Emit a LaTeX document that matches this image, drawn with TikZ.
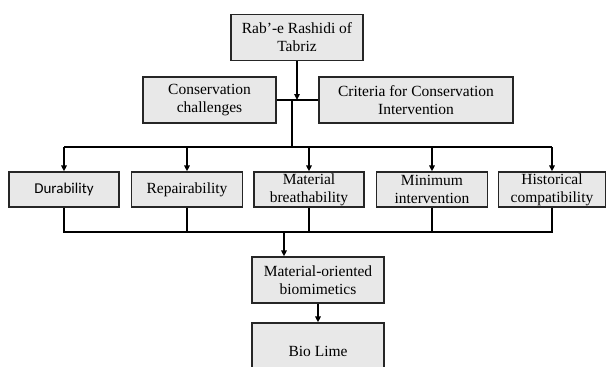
\documentclass[tikz,border=0pt]{standalone}
\usepackage{fontspec}
\setmainfont{Liberation Serif}
\newfontfamily\calib{Carlito}
\usetikzlibrary{arrows.meta}

\begin{document}
\begin{tikzpicture}[x=1pt,y=-1pt,
  box/.style={rectangle,draw=black!85,line width=1.3pt,fill=black!9,align=center,
    inner sep=1pt,font=\fontsize{15.5}{18}\selectfont},
  wide/.style={box,minimum height=46pt},
  flat/.style={box,minimum height=35pt},
  arr/.style={line width=1.8pt,-{Triangle[length=6pt,width=5.5pt]}},
  bus/.style={line width=1.8pt}]
\clip (0,0) rectangle (606,367);
\node [wide,minimum width=132pt] (top) at (297,37.5) {Rab'-e Rashidi of\\Tabriz};
\node [wide,minimum width=133pt] (chal) at (209.5,100) {Conservation\\challenges};
\node [wide,minimum width=194pt] (crit) at (416,100) {Criteria for Conservation\\Intervention};
\node [flat,minimum width=110pt] (dur) at (64,189.5) {\calib\fontsize{15}{18}\selectfont Durability};
\node [flat,minimum width=111pt] (rep) at (187,189.5) {Repairability};
\node [flat,minimum width=110pt] (mat) at (309,189.5) {Material\\breathability};
\node [flat,minimum width=111pt] (min) at (432,189.5) {Minimum\\intervention};
\node [flat,minimum width=107pt] (his) at (552,189.5) {Historical\\compatibility};
\node [wide,minimum width=132pt] (bio) at (318,280) {Material-oriented\\biomimetics};
\node [box,minimum width=132pt,minimum height=56pt] (lime) at (318,351) {Bio Lime};

\coordinate (join) at (292,100);
\coordinate (split) at (292,147);
\coordinate (merge) at (284,232);

\draw [arr] (top) -- (top |- join);
\draw [bus] (chal) -- (crit);
\draw [bus] (join) -- (split);
\draw [bus] (dur |- split) -- (his |- split);
\foreach \n in {dur,rep,mat,min,his}
  \draw [arr] (\n |- split) -- (\n);
\draw [bus] (dur) -- (dur |- merge) -- (his |- merge) -- (his);
\foreach \n in {rep,mat,min}
  \draw [bus] (\n) -- (\n |- merge);
\draw [arr] (merge) -- (merge |- bio.north);
\draw [arr] (bio) -- (lime);
\end{tikzpicture}
\end{document}
